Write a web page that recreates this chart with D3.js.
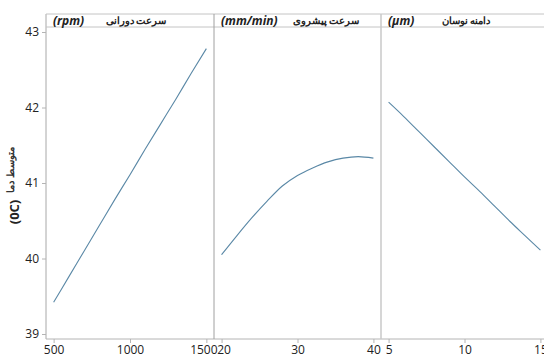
<!DOCTYPE html>
<html><head><meta charset="utf-8">
<script src="https://cdn.jsdelivr.net/npm/d3@7"></script>
<style>body{margin:0;background:#fff}svg{display:block}</style>
</head><body><svg id="c" width="544" height="358"></svg>
<script>
const yLabel = "متوسط دما";
const yUnit = "(0C)";
const yTicks = [39, 40, 41, 42, 43];

const panelTitles = ["سرعت دورانی", "سرعت پیشروی", "دامنه نوسان"];
const panelUnits = ["(rpm)", "(mm/min)", "(μm)"];
const panelDomains = [[500, 1500], [20, 40], [5, 15]];
const panelTicks = [[500, 1000, 1500], [20, 30, 40], [5, 10, 15]];

const speedX = [500, 600, 700, 800, 900, 1000, 1100, 1200, 1300, 1400, 1500];
const speedY = [39.42, 39.76, 40.10, 40.44, 40.78, 41.11, 41.45, 41.78, 42.11, 42.45, 42.78];
const feedX = [20, 22, 24, 26, 28, 30, 32, 34, 36, 38, 40];
const feedY = [40.05, 40.30, 40.54, 40.76, 40.96, 41.10, 41.20, 41.28, 41.33, 41.35, 41.33];
const ampX = [5, 6, 7, 8, 9, 10, 11, 12, 13, 14, 15];
const ampY = [42.07, 41.88, 41.68, 41.48, 41.28, 41.08, 40.89, 40.69, 40.49, 40.30, 40.11];
const series = [[speedX, speedY], [feedX, feedY], [ampX, ampY]];

const svg = d3.select("#c");
const font = "'Open Sans', 'Noto Sans', sans-serif";
const topY = 14, headH = 13, bottomY = 339;
const panelX = [46, 214, 381, 548];
const y = d3.scaleLinear().domain([39, 43]).range([334, 32]);
const axisCol = "#b4b4b4";
const fmt = d3.format("d");

// y axis
svg.append("line").attr("x1", 46).attr("x2", 46).attr("y1", topY).attr("y2", bottomY)
  .attr("stroke", "#a8a8a8");
const ya = svg.append("g").attr("transform", "translate(46,0)")
  .call(d3.axisLeft(y).tickValues(yTicks).tickFormat(fmt).tickSize(4).tickPadding(3));
ya.select(".domain").remove();
ya.selectAll("line").attr("stroke", axisCol);
ya.selectAll("text").attr("font-family", font).attr("font-size", 12).attr("fill", "#222");

svg.append("text").attr("transform", "translate(14,170) rotate(-90)")
  .attr("text-anchor", "middle").attr("font-family", font).attr("font-size", 10)
  .attr("font-weight", "600").attr("fill", "#333").text(yLabel);
svg.append("text").attr("transform", "translate(19,212) rotate(-90)")
  .attr("text-anchor", "middle").attr("font-family", font).attr("font-size", 13)
  .attr("font-weight", "bold").attr("fill", "#222").text(yUnit);

// bottom line
svg.append("line").attr("x1", 46).attr("x2", 544).attr("y1", bottomY).attr("y2", bottomY)
  .attr("stroke", axisCol);
// header lines
[topY, topY + headH].forEach(yy => svg.append("line").attr("x1", 46).attr("x2", 544)
  .attr("y1", yy).attr("y2", yy).attr("stroke", "#c4c4c4"));

const line = d3.line().curve(d3.curveMonotoneX);

for (let i = 0; i < 3; i++) {
  const x0 = panelX[i], x1 = panelX[i + 1];
  const dom = panelDomains[i], span = dom[1] - dom[0];
  const x = d3.scaleLinear().domain([dom[0] - span * 0.05, dom[1] + span * 0.05]).range([x0, x1]);
  if (i > 0) svg.append("line").attr("x1", x0).attr("x2", x0).attr("y1", topY).attr("y2", bottomY)
    .attr("stroke", i === 1 ? "#a0a0a0" : "#c8c8c8").attr("stroke-width", i === 1 ? 1 : 1.5);
  const xa = svg.append("g").attr("transform", `translate(0,${bottomY})`)
    .call(d3.axisBottom(x).tickValues(panelTicks[i]).tickFormat(fmt).tickSize(4).tickPadding(2));
  xa.select(".domain").remove();
  xa.selectAll("line").attr("stroke", axisCol);
  xa.selectAll("text").attr("font-family", font).attr("font-size", 12).attr("fill", "#222")
    .attr("dx", (d, k) => (i === 0 && k === 2) ? -3 : (i === 1 && k === 0) ? 2 : 0);

  const [xs, ys] = series[i];
  svg.append("path").datum(xs.map((v, k) => [x(v), y(ys[k])]))
    .attr("d", line).attr("fill", "none").attr("stroke", "#5a88a6").attr("stroke-width", 1.1);

  svg.append("text").attr("x", x0 + 7).attr("y", topY + 11)
    .attr("font-family", font).attr("font-size", 12).attr("font-weight", "bold")
    .attr("font-style", "italic").attr("fill", "#222").text(panelUnits[i]);
  const cx = [136, 326, 466][i];
  svg.append("text").attr("x", cx).attr("y", topY + 10).attr("text-anchor", "middle")
    .attr("font-family", font).attr("font-size", 10).attr("font-weight", "bold")
    .attr("fill", "#222").text(panelTitles[i]);
}
</script></body></html>
